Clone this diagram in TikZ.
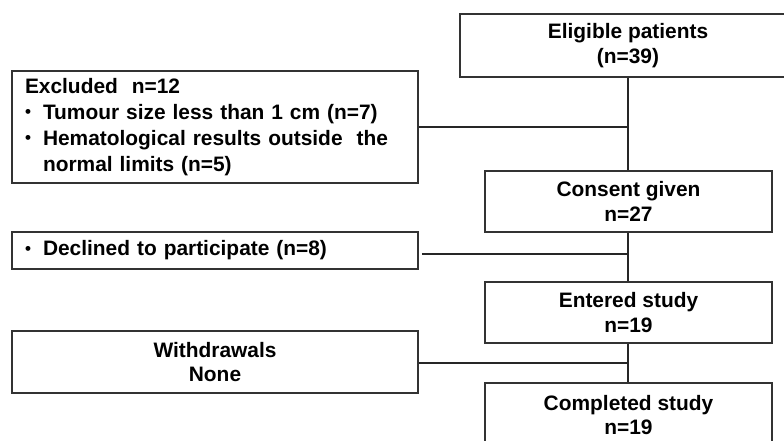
\documentclass[tikz,border=0pt]{standalone}
\usepackage{fontspec}
\setmainfont{Liberation Sans}
\newcommand{\bul}{\makebox[18pt][l]{\raisebox{1.5pt}{\fontsize{17}{17}\selectfont\textbullet}}}
\tikzset{
  box/.style={draw=black!80, line width=1.5pt, rectangle, inner sep=0pt,
    font=\fontsize{20.9}{24.5}\selectfont\bfseries, align=center},
  lbox/.style={box, align=left, inner xsep=13pt, font=\fontsize{20.9}{26}\selectfont\bfseries},
  conn/.style={draw=black!85, line width=1.5pt}
}
\begin{document}
\begin{tikzpicture}[x=1pt,y=-1pt]
\clip (0,0) rectangle (784,441);
\node[box, minimum width=336pt, minimum height=63pt] (elig) at (628,45.5) {Eligible patients\\(n=39)};
\node[lbox, minimum width=406pt, minimum height=112pt, text width=380pt] (excl) at (215,127)
  {\raisebox{6pt}{\parbox[c]{380pt}{\raggedright Excluded\ \ n=12\\\bul Tumour size less than 1 cm (n=7)\\\bul Hematological results outside\ \ the\\\hspace*{18pt}normal limits (n=5)}}};
\node[box, minimum width=287pt, minimum height=61pt] (cons) at (628.5,201.5) {Consent given\\n=27};
\node[lbox, minimum width=406pt, minimum height=37pt, text width=380pt] (decl) at (215,250.5) {\bul Declined to participate (n=8)};
\node[box, minimum width=287pt, minimum height=61pt] (entr) at (628.5,312.5) {Entered study\\n=19};
\node[box, minimum width=406pt, minimum height=62pt] (wdr) at (215,362) {Withdrawals\\None};
\node[box, minimum width=287pt, minimum height=64pt] (comp) at (628.5,415) {Completed study\\n=19};
\draw[conn] (elig.south) -- (elig.south |- cons.north);
\draw[conn] (elig.south |- cons.south) -- (elig.south |- entr.north);
\draw[conn] (elig.south |- entr.south) -- (elig.south |- comp.north);
\draw[conn] (excl.east) -- (excl.east -| elig.south);
\draw[conn] ([shift={(3,3.5)}]decl.east) -- ([shift={(0,3.5)}]decl.east -| elig.south);
\draw[conn] ([shift={(0,1)}]wdr.east) -- ([shift={(0,1)}]wdr.east -| elig.south);
\end{tikzpicture}
\end{document}
